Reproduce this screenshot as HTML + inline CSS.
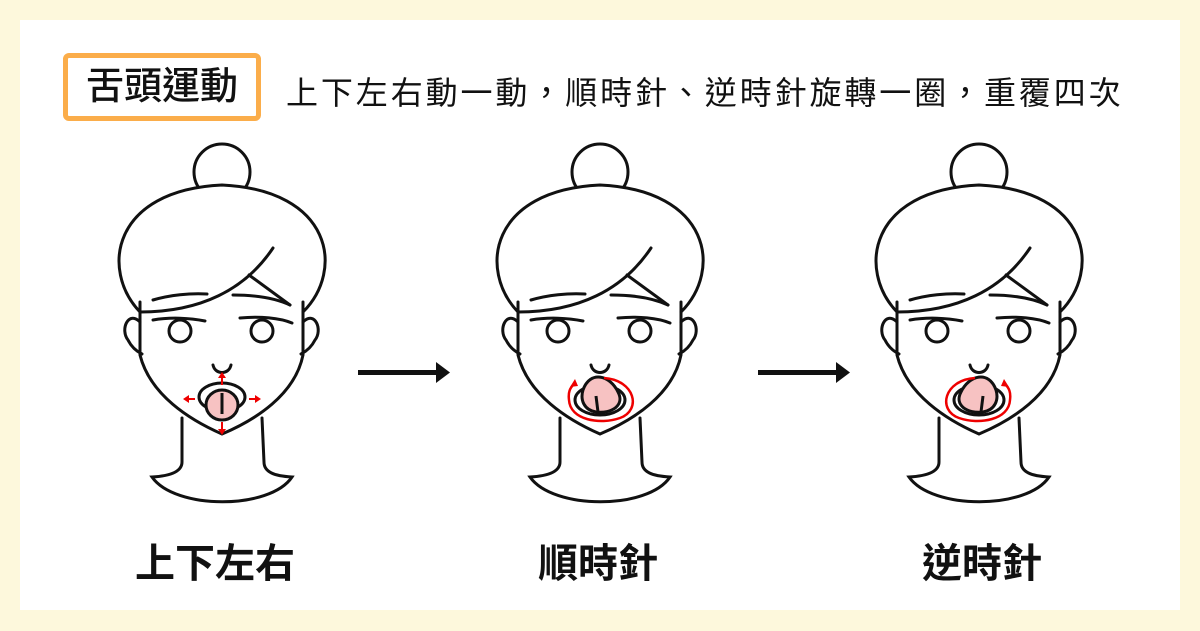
<!DOCTYPE html>
<html><head><meta charset="utf-8"><style>
html,body{margin:0;padding:0;}
body{width:1200px;height:631px;background:#fdf8dc;position:relative;overflow:hidden;font-family:"Liberation Sans","Noto Sans CJK TC",sans-serif;}
.panel{position:absolute;left:20px;top:20px;width:1160px;height:590px;background:#fff;}
.title{position:absolute;left:63px;top:53px;width:188px;height:58px;border:5px solid #fbad4a;border-radius:6px;font-size:38px;line-height:58px;text-align:center;color:#111;font-weight:500;}
.sub{position:absolute;left:286px;top:72px;font-size:32px;line-height:42px;color:#111;letter-spacing:2.9px;white-space:nowrap;}
.lab{position:absolute;top:538px;font-size:40px;font-weight:bold;line-height:52px;color:#111;text-align:center;width:300px;}
svg{position:absolute;left:0;top:0;}
</style></head><body>
<div class="panel"></div>
<div class="title">舌頭運動</div>
<div class="sub">上下左右動一動，順時針、逆時針旋轉一圈，重覆四次</div>
<div class="lab" style="left:65px">上下左右</div>
<div class="lab" style="left:448px">順時針</div>
<div class="lab" style="left:832px">逆時針</div>
<svg width="1200" height="631" viewBox="0 0 1200 631">
<defs>
<g id="face" fill="none" stroke="#111" stroke-width="3" stroke-linecap="round">
<circle cx="222" cy="172" r="28" fill="#fff"/>
<path d="M140 312 C100 270 112 190 222 185 C332 190 345 270 303 312" fill="#fff"/>
<path d="M140 302 L140 355 C150 395 190 420 222 434 C255 420 295 395 303 355 L303 302"/>
<path d="M140 312 C200 312 245 290 273 248"/>
<path d="M249 275 L290 305"/>
<path d="M153 300 C170 295 190 293 207 294"/>
<path d="M233 295 C255 295 275 298 290 305"/>
<path d="M153 320 C170 317 190 318 205 321"/>
<path d="M240 318 C260 316 280 318 292 323"/>
<circle cx="180" cy="331" r="11"/>
<circle cx="262" cy="331" r="11"/>
<path d="M140 322 C128 310 120 330 128 340 C132 348 138 352 142 354"/>
<path d="M303 322 C315 310 323 330 315 340 C311 348 305 352 301 354"/>
<path d="M213 365 C215 375 229 375 231 365"/>
<path d="M182 418 L182 462 C182 472 170 476 152 477 C175 510 270 510 292 477 C274 476 264 472 264 462 L262 418"/>
</g>
</defs>
<use href="#face"/>
<use href="#face" x="378"/>
<use href="#face" x="757"/>
<g stroke="#111" stroke-width="3" fill="none">
<ellipse cx="222" cy="397" rx="23" ry="14" fill="#fff"/>
<ellipse cx="222" cy="405" rx="16" ry="15" fill="#f7c2c2"/>
<line x1="222" y1="393" x2="222" y2="414"/>
</g>
<g stroke="#e00" stroke-width="2" fill="#e00">
<line x1="222" y1="385" x2="222" y2="377"/><polygon points="218,378 226,378 222,372" stroke="none"/>
<line x1="222" y1="422" x2="222" y2="430"/><polygon points="218,429 226,429 222,435" stroke="none"/>
<line x1="195" y1="399" x2="188" y2="399"/><polygon points="189,395 189,403 183,399" stroke="none"/>
<line x1="249" y1="399" x2="256" y2="399"/><polygon points="255,395 255,403 261,399" stroke="none"/>
</g>
<g stroke="#111" stroke-width="3">
<ellipse cx="600" cy="400" rx="25" ry="15" fill="#fff"/>
<path d="M583 390 C590 370 610 375 618 392 C625 405 612 414 596 412 C584 410 580 400 583 390Z" fill="#f7c2c2"/>
<path d="M596 396 L598 412" fill="none"/>
</g>
<path d="M604 378 C635 380 642 410 620 418 C600 425 570 420 569 400 C568 392 570 388 574 384" fill="none" stroke="#e00" stroke-width="2.5"/>
<polygon points="570,387 578,386 575,379" fill="#e00"/>
<g stroke="#111" stroke-width="3">
<ellipse cx="979" cy="400" rx="25" ry="15" fill="#fff"/>
<path d="M996 390 C989 370 969 375 961 392 C954 405 967 414 983 412 C995 410 999 400 996 390Z" fill="#f7c2c2"/>
<path d="M983 396 L981 412" fill="none"/>
</g>
<path d="M975 378 C944 380 937 410 959 418 C979 425 1009 420 1010 400 C1011 392 1009 388 1005 384" fill="none" stroke="#e00" stroke-width="2.5"/>
<polygon points="1009,387 1001,386 1004,379" fill="#e00"/>
<g fill="#111">
<rect x="358" y="370" width="80" height="5"/><polygon points="436,362 450,372.5 436,383"/>
<rect x="758" y="370" width="80" height="5"/><polygon points="836,362 850,372.5 836,383"/>
</g>
</svg>
</body></html>
